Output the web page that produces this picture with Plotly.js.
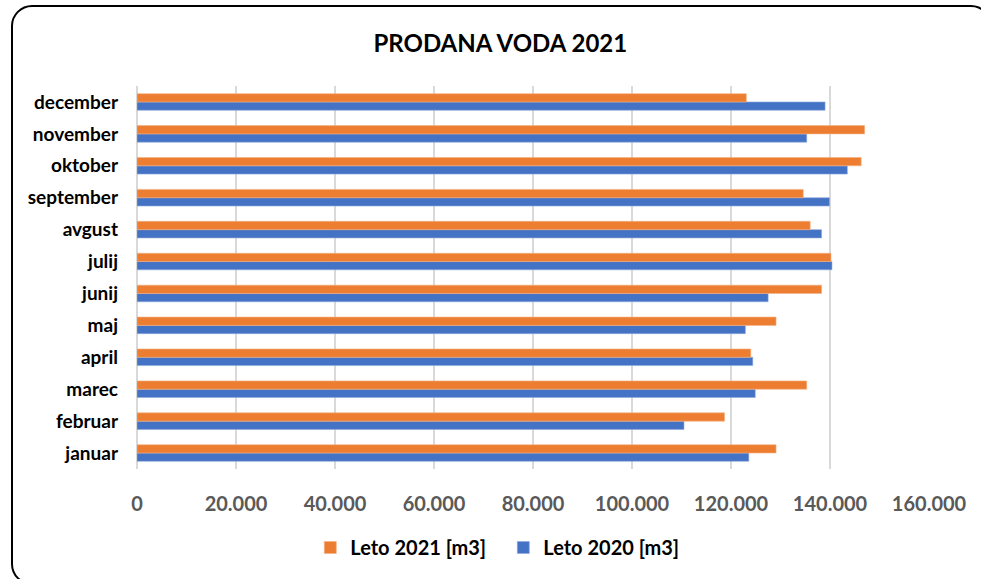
<!DOCTYPE html>
<html>
<head>
<meta charset="utf-8">
<script src="https://cdn.plot.ly/plotly-3.0.1.min.js"></script>
<style>
  html, body { margin:0; padding:0; width:981px; height:579px; overflow:hidden; background:#fff; }
  #frame { position:absolute; left:11px; top:5px; width:981px; height:580px; border:2px solid #000; border-radius:21px; box-sizing:border-box; }
  #chart { position:absolute; left:0; top:0; width:981px; height:579px; }
</style>
</head>
<body>
<div id="frame"></div>
<div id="chart"></div>
<script>
const months = ["januar","februar","marec","april","maj","junij","julij","avgust","september","oktober","november","december"];
const leto2021 = [129100, 118700, 135300, 124000, 129100, 138300, 140200, 136000, 134600, 146300, 147000, 123100];
const leto2020 = [123600, 110500, 124900, 124400, 122900, 127500, 140400, 138300, 139900, 143500, 135300, 139000];
const xTicks = [0, 20000, 40000, 60000, 80000, 100000, 120000, 140000, 160000];

const traces = [
  { type:'bar', orientation:'h', name:'Leto 2020 [m3]', y:months, x:leto2020,
    marker:{ color:'#4472C4', line:{ color:'#8faadc', width:0.6 } } },
  { type:'bar', orientation:'h', name:'Leto 2021 [m3]', y:months, x:leto2021,
    marker:{ color:'#ED7D31', line:{ color:'#f4b183', width:0.6 } } }
];

const layout = {
  width:981, height:579,
  paper_bgcolor:'rgba(0,0,0,0)', plot_bgcolor:'rgba(0,0,0,0)',
  separators:',.',
  margin:{ l:137, r:52, t:86, b:107 },
  barmode:'group', bargap:0.48, bargroupgap:0,
  title:{ text:'<b>PRODANA VODA 2021</b>', x:0.51, xref:'container', xanchor:'center', y:0.924, yanchor:'middle',
          font:{ family:'Lato, sans-serif', size:24, color:'#000' } },
  xaxis:{ range:[0,160000], tickvals:xTicks, tickformat:',d', showgrid:true, gridcolor:'#d9d9d9', gridwidth:2,
          zeroline:true, zerolinecolor:'#d9d9d9', zerolinewidth:2, showline:false, ticks:'', ticklen:0,
          ticklabelstandoff:21,
          tickfont:{ family:'Lato, sans-serif', size:20, color:'#595959', weight:'bold' }, fixedrange:true },
  yaxis:{ type:'category', categoryarray:months, showgrid:false, zeroline:false, showline:false, ticks:'',
          ticklabelstandoff:18,
          tickfont:{ family:'Lato, sans-serif', size:19, color:'#000', weight:'bold' } },
  legend:{ orientation:'h', x:0.4625, xanchor:'center', y:-0.205, yanchor:'middle', traceorder:'reversed',
           entrywidth:148, entrywidthmode:'pixels',
           font:{ family:'Lato, sans-serif', size:20, color:'#000', weight:'bold' }, itemwidth:30 },
  showlegend:true
};

Plotly.newPlot('chart', traces, layout, { staticPlot:true, displayModeBar:false });
</script>
</body>
</html>
